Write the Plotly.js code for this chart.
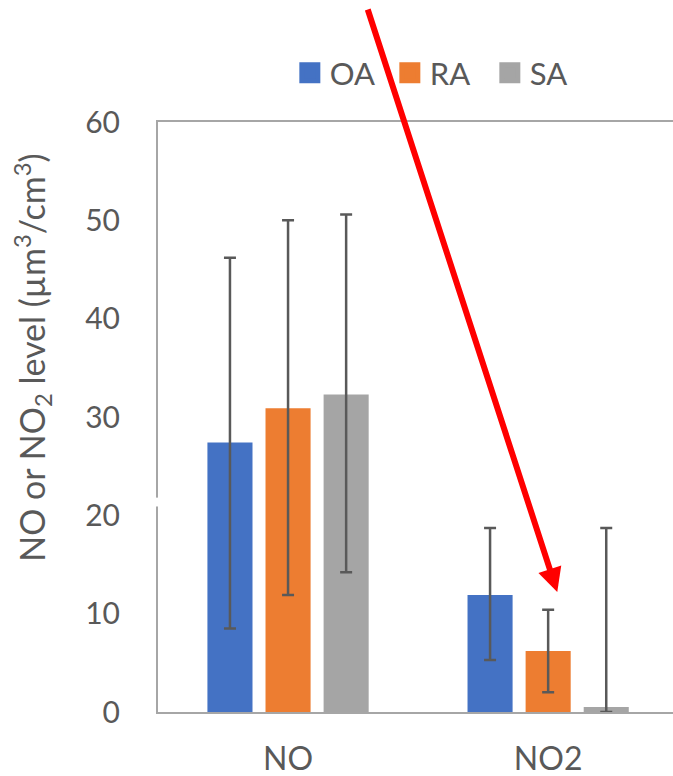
<!DOCTYPE html>
<html>
<head>
<meta charset="utf-8">
<script src="https://cdn.plot.ly/plotly-3.0.1.min.js"></script>
<style>
  html, body { margin: 0; padding: 0; background: #ffffff; }
  #chart { width: 673px; height: 776px; }
</style>
</head>
<body>
<div id="chart"></div>
<script>
// Pollutant categories on the x axis
const categories = ["NO", "NO2"];

// Series names and colours
const seriesNames = ["OA", "RA", "SA"];
const seriesColors = ["#4472C4", "#ED7D31", "#A5A5A5"];

// Mean levels (µm³/cm³) per series, in category order
const oaValues = [27.4, 11.9];
const raValues = [30.9, 6.2];
const saValues = [32.3, 0.5];

// Upper / lower error extents per series
const oaErrPlus = [18.8, 6.8];
const oaErrMinus = [18.9, 6.6];
const raErrPlus = [19.1, 4.2];
const raErrMinus = [19.0, 4.2];
const saErrPlus = [18.3, 18.2];
const saErrMinus = [18.1, 0.5];

// Y axis ticks
const yTicks = [0, 10, 20, 30, 40, 50, 60];

const textColor = "#595959";
const fontFamily = "Lato, 'Open Sans', sans-serif";

const values = [oaValues, raValues, saValues];
const errPlus = [oaErrPlus, raErrPlus, saErrPlus];
const errMinus = [oaErrMinus, raErrMinus, saErrMinus];

const traces = [];
seriesNames.forEach((name, i) => {
  traces.push({
    type: "bar",
    name: name,
    x: categories,
    y: values[i],
    marker: { color: seriesColors[i], line: { width: 0 } },
    error_y: {
      type: "data",
      symmetric: false,
      array: errPlus[i],
      arrayminus: errMinus[i],
      color: textColor,
      thickness: 2.5,
      width: 6
    },
    showlegend: false,
    hoverinfo: "skip"
  });
});

// Legend entries with larger square swatches
seriesNames.forEach((name, i) => {
  traces.push({
    type: "scatter",
    mode: "markers",
    name: name,
    x: [null],
    y: [null],
    marker: { symbol: "square", size: 16, color: seriesColors[i],
              line: { width: 5, color: seriesColors[i] } },
    showlegend: true,
    hoverinfo: "skip"
  });
});

const layout = {
  width: 673,
  height: 776,
  margin: { l: 158, r: 0, t: 122, b: 64 },
  paper_bgcolor: "#ffffff",
  plot_bgcolor: "#ffffff",
  font: { family: fontFamily, color: textColor },
  barmode: "group",
  bargap: 0.33,
  bargroupgap: 0.224,
  showlegend: true,
  legend: {
    orientation: "h",
    x: 0.256,
    xanchor: "left",
    y: 1.083,
    yanchor: "middle",
    font: { size: 31, color: textColor, family: fontFamily },
    itemwidth: 30,
    entrywidth: 55,
    entrywidthmode: "pixels",
    traceorder: "normal"
  },
  xaxis: {
    type: "category",
    range: [-0.5, 1.48],
    showline: true,
    linecolor: "#A6A6A6",
    linewidth: 2,
    mirror: true,
    showgrid: false,
    zeroline: false,
    ticks: "",
    tickfont: { size: 32, color: textColor, family: fontFamily },
    ticklabelstandoff: 18,
    fixedrange: true
  },
  yaxis: {
    range: [0, 60],
    tickvals: yTicks,
    ticktext: yTicks.map(String),
    showline: true,
    linecolor: "#A6A6A6",
    linewidth: 2,
    showgrid: false,
    zeroline: false,
    ticks: "",
    tickfont: { size: 30, color: textColor, family: fontFamily },
    ticklabelstandoff: 30,
    fixedrange: true
  },
  shapes: [
    // Small break in the value axis between 20 and 30
    {
      type: "rect", xref: "paper", yref: "y",
      x0: -0.012, x1: 0.012, y0: 20.9, y1: 21.8,
      fillcolor: "#ffffff", line: { width: 0 }, layer: "above"
    }
  ],
  annotations: [
    {
      text: "NO or NO<sub>2</sub> level (µm<sup>3</sup>/cm<sup>3</sup>)",
      xref: "paper", yref: "paper",
      x: -0.245, y: 0.60,
      xanchor: "center", yanchor: "middle",
      textangle: -90,
      showarrow: false,
      font: { size: 34, color: textColor, family: fontFamily }
    },
    // Red pointer onto the NO2 / RA bar
    {
      text: "",
      xref: "x", yref: "y",
      x: 1.035, y: 12.2,
      axref: "pixel", ayref: "pixel",
      ax: -190, ay: -584,
      showarrow: true,
      arrowhead: 2,
      arrowsize: 0.8,
      arrowwidth: 6,
      arrowcolor: "#FF0000"
    }
  ]
};

Plotly.newPlot("chart", traces, layout, { staticPlot: true, displayModeBar: false });
</script>
</body>
</html>
